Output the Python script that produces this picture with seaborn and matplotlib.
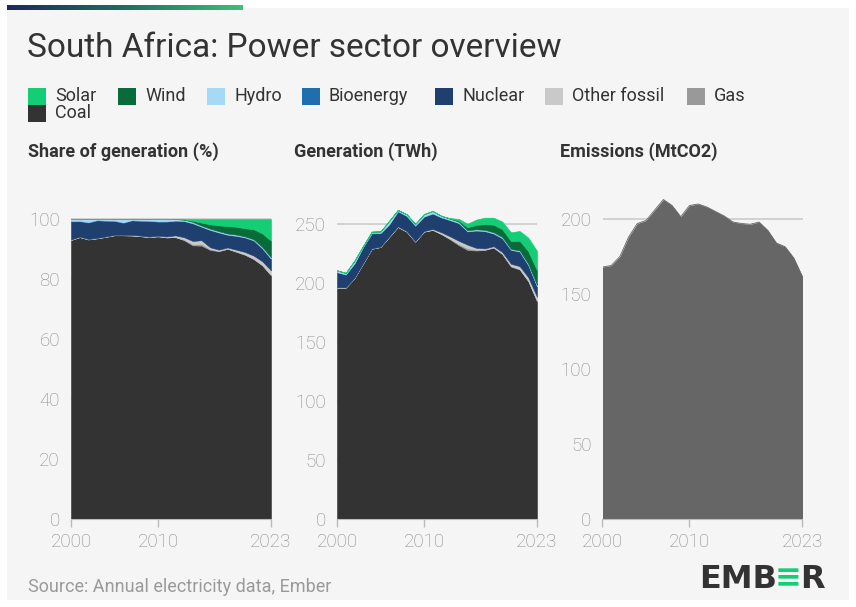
import numpy as np
import pandas as pd
import matplotlib
matplotlib.use('Agg')
import matplotlib.pyplot as plt
from matplotlib.patches import Rectangle
import seaborn as sns

# data (TWh / MtCO2)
years = list(range(2000, 2024))
coal = [196, 196, 204, 216.5, 229, 230.5, 239, 247.5, 243.5, 235, 243.5, 245,
        241.5, 237, 232, 228, 227.5, 228, 230, 224.5, 214, 211.5, 201.5, 184.5]
gas = [0, 0, 0, 0, 0, 0, 0, 0, 0, 0, 0, 0,
       0, 0.5, 1.0, 1.5, 0.8, 0.3, 0.2, 0.3, 0.3, 0.3, 0.3, 0.3]
other_fossil = [0.3, 0.3, 0.3, 0.3, 0.3, 0.3, 0.4, 0.5, 0.5, 0.4, 0.5, 0.8,
                1.5, 2.0, 2.8, 3.0, 1.5, 1.0, 1.0, 1.5, 2.0, 2.5, 3.0, 3.5]
nuclear = [12.7, 10.7, 12.0, 13.5, 12.7, 11.3, 10.1, 12.6, 12.7, 13.0, 12.1, 12.9,
           12.4, 13.6, 14.8, 11.1, 14.5, 14.5, 10.6, 11.5, 11.6, 12.2, 10.1, 8.6]
bioenergy = [0.3] * 24
hydro = [1.4, 1.3, 2.3, 0.8, 1.2, 1.3, 2.9, 1.0, 1.3, 1.4, 2.0, 2.0,
         1.2, 1.1, 1.0, 0.8, 0.9, 0.9, 0.9, 0.9, 0.7, 0.8, 0.9, 1.0]
wind = [0, 0, 0, 0, 0, 0, 0, 0, 0, 0, 0, 0,
        0, 0.1, 1.0, 2.5, 3.7, 4.9, 6.4, 6.6, 6.6, 8.2, 10.8, 12.5]
solar = [0, 0, 0, 0, 0, 0, 0, 0, 0, 0, 0, 0,
         0.1, 0.4, 1.5, 3.0, 4.5, 5.5, 6.0, 6.5, 7.5, 8.3, 11.5, 16.5]
emissions = [168, 169, 175, 188, 197, 199, 206, 213, 209, 201.5, 209, 210,
             208, 205, 202, 198, 197, 196.5, 198, 192.5, 184, 181.5, 174, 161.5]

sources = ['Coal', 'Gas', 'Other fossil', 'Nuclear', 'Bioenergy', 'Hydro', 'Wind', 'Solar']
colors = {'Solar': '#13ce74', 'Wind': '#0a6b3a', 'Hydro': '#a6d9f5',
          'Bioenergy': '#1f6ead', 'Nuclear': '#1f3f6f', 'Other fossil': '#c9c9c9',
          'Gas': '#999999', 'Coal': '#333333'}

gen = pd.DataFrame({'Coal': coal, 'Gas': gas, 'Other fossil': other_fossil,
                    'Nuclear': nuclear, 'Bioenergy': bioenergy, 'Hydro': hydro,
                    'Wind': wind, 'Solar': solar}, index=years)
share = gen.div(gen.sum(axis=1), axis=0) * 100

sns.set_style('white')
plt.rcParams['font.family'] = ['Roboto', 'DejaVu Sans']

W, H = 856, 607
fig = plt.figure(figsize=(W / 100, H / 100), dpi=100, facecolor='white')

def fx(px):
    return px / W

def fy(py):
    return 1 - py / H

# light grey card + gradient strip on top
fig.patches.append(Rectangle((fx(7), fy(600)), fx(842), (600 - 8) / H,
                             transform=fig.transFigure, facecolor='#f5f5f5',
                             edgecolor='none', zorder=-5))
bar_ax = fig.add_axes([fx(7), fy(10), fx(236), 5 / H])
grad = np.linspace(0, 1, 256).reshape(1, -1)
bar_ax.imshow(grad, aspect='auto',
              cmap=matplotlib.colors.LinearSegmentedColormap.from_list('g', ['#1b2a57', '#1f6e63', '#3fbf78']))
bar_ax.axis('off')

fig.text(fx(27), fy(48), 'South Africa: Power sector overview', fontsize=24,
         color='#333333', va='center', ha='left')

# legend (manual)
legend_items = [('Solar', 28, 96), ('Wind', 118, 96), ('Hydro', 207, 96),
                ('Bioenergy', 302, 96), ('Nuclear', 435, 96),
                ('Other fossil', 545, 96), ('Gas', 687, 96), ('Coal', 28, 113)]
for name, lx, ly in legend_items:
    fig.patches.append(Rectangle((fx(lx), fy(ly + 8.5)), 18 / W, 17 / H,
                                 transform=fig.transFigure, facecolor=colors[name],
                                 edgecolor='none'))
    fig.text(fx(lx + 27), fy(ly), name, fontsize=13, color='#333333',
             va='center', ha='left')

# panels
panel_left = [71, 337, 602.5]
titles = ['Share of generation (%)', 'Generation (TWh)', 'Emissions (MtCO2)']
title_x = [28, 294, 560]
ylims = [329 / 3.0, 329 / 1.18, 329 / 1.5]
yticks = [range(0, 101, 20), range(0, 251, 50), range(0, 201, 50)]

axes = []
for i in range(3):
    ax = fig.add_axes([fx(panel_left[i]), fy(519), 200 / W, 329 / H])
    ax.set_facecolor('none')
    axes.append(ax)
    fig.text(fx(title_x[i]), fy(152), titles[i], fontsize=13, fontweight='bold',
             color='#333333', va='center', ha='left')

for ax, df in zip(axes[:2], [share, gen]):
    ax.stackplot(df.index, [df[s].values for s in sources],
                 colors=[colors[s] for s in sources], linewidth=0.4,
                 edgecolor='face', zorder=2)

emis = pd.DataFrame({'year': years, 'emissions': emissions})
axes[2].fill_between(emis['year'], 0, emis['emissions'], color='#666666',
                     linewidth=0, zorder=2)
sns.lineplot(data=emis, x='year', y='emissions', ax=axes[2], color='#666666',
             linewidth=0.6, zorder=2)

for ax, yl, yt in zip(axes, ylims, yticks):
    ax.set_xlim(2000, 2023)
    ax.set_ylim(0, yl)
    ax.set_xticks([2000, 2010, 2023])
    ax.set_yticks(list(yt))
    ax.set_xlabel('')
    ax.set_ylabel('')
    ax.grid(axis='y', color='#cccccc', linewidth=1.2, zorder=1)
    ax.grid(axis='x', visible=False)
    ax.set_axisbelow(True)
    for side in ['left', 'right', 'top']:
        ax.spines[side].set_visible(False)
    ax.spines['bottom'].set_color('#bbbbbb')
    ax.spines['bottom'].set_zorder(3)
    ax.tick_params(axis='x', length=6, width=1, color='#bbbbbb', pad=4,
                   labelsize=13.5, labelcolor='#8a8a8a', bottom=True)
    ax.tick_params(axis='y', length=0, pad=8, labelsize=13.5, labelcolor='#8a8a8a')
    for lab in ax.get_xticklabels() + ax.get_yticklabels():
        lab.set_fontweight('light')

fig.text(fx(28), fy(587), 'Source: Annual electricity data, Ember', fontsize=13,
         color='#9a9a9a', va='center', ha='left')

# logo
renderer = fig.canvas.get_renderer()
x0 = fx(699)
for part, col in [('EMB', '#333333'), ('\u2261', '#13ce74'), ('R', '#333333')]:
    t = fig.text(x0, fy(579), part, fontsize=23, fontweight='bold', color=col,
                 va='center', ha='left', family=['DejaVu Sans'])
    bb = t.get_window_extent(renderer=renderer)
    x0 = (bb.x1 - 2) / fig.bbox.width

fig.savefig('out.png', dpi=100, facecolor='white')
